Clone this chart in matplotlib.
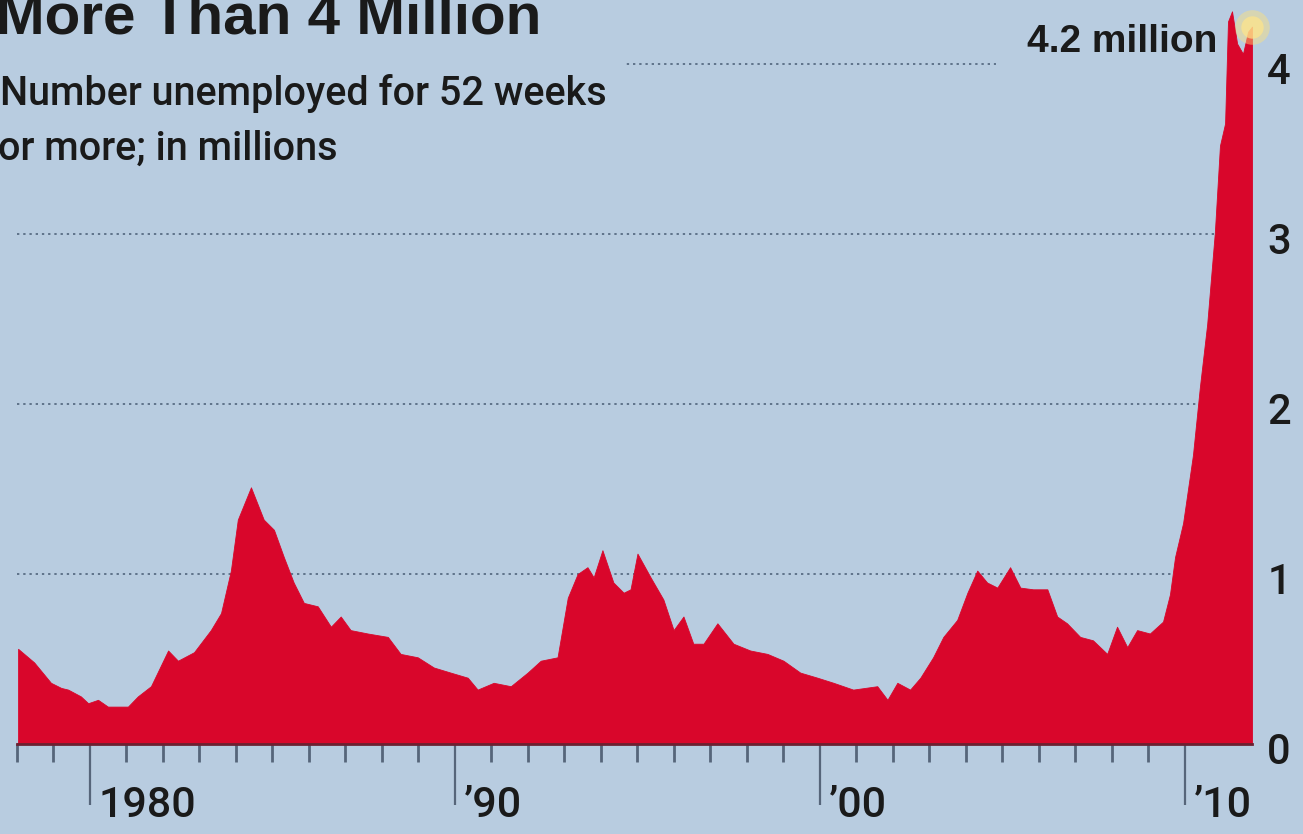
import matplotlib
matplotlib.use("Agg")
import matplotlib.pyplot as plt
from matplotlib.transforms import ScaledTranslation
import numpy as np

# ---------------- data ----------------
years = [1978.03, 1978.47, 1978.93, 1979.21, 1979.40, 1979.75, 1979.95, 1980.22,
         1980.49, 1981.04, 1981.31, 1981.67, 1982.14, 1982.41, 1982.85, 1983.31,
         1983.59, 1983.86, 1984.05, 1984.41, 1984.76, 1985.04, 1985.31, 1985.58,
         1985.86, 1986.24, 1986.60, 1986.87, 1987.14, 1987.61, 1988.16, 1988.51,
         1988.98, 1989.42, 1989.88, 1990.35, 1990.62, 1991.06, 1991.53, 1991.99,
         1992.35, 1992.81, 1993.09, 1993.36, 1993.63, 1993.80, 1994.04, 1994.34,
         1994.62, 1994.81, 1995.00, 1995.36, 1995.71, 1995.99, 1996.26, 1996.53,
         1996.81, 1997.19, 1997.63, 1998.09, 1998.56, 1999.00, 1999.46, 1999.93,
         2000.37, 2000.91, 2001.57, 2001.85, 2002.12, 2002.47, 2002.75, 2003.10,
         2003.38, 2003.76, 2004.04, 2004.31, 2004.58, 2004.86, 2005.21, 2005.49,
         2005.84, 2006.23, 2006.50, 2006.77, 2007.13, 2007.48, 2007.87, 2008.14,
         2008.42, 2008.69, 2009.04, 2009.40, 2009.59, 2009.73, 2009.95, 2010.22,
         2010.41, 2010.61, 2010.82, 2010.96, 2011.10, 2011.18, 2011.29, 2011.43,
         2011.59, 2011.73, 2011.84]
values = [0.56, 0.48, 0.36, 0.33, 0.32, 0.28, 0.24, 0.26,
          0.22, 0.22, 0.28, 0.34, 0.55, 0.49, 0.54, 0.67,
          0.77, 1.02, 1.32, 1.51, 1.32, 1.26, 1.10, 0.95,
          0.83, 0.81, 0.69, 0.75, 0.67, 0.65, 0.63, 0.53,
          0.51, 0.45, 0.42, 0.39, 0.32, 0.36, 0.34, 0.42,
          0.49, 0.51, 0.86, 1.00, 1.04, 0.98, 1.14, 0.95,
          0.89, 0.91, 1.12, 0.98, 0.85, 0.67, 0.75, 0.59,
          0.59, 0.71, 0.59, 0.55, 0.53, 0.49, 0.42, 0.39,
          0.36, 0.32, 0.34, 0.26, 0.36, 0.32, 0.39, 0.51,
          0.63, 0.73, 0.89, 1.02, 0.95, 0.92, 1.04, 0.92,
          0.91, 0.91, 0.75, 0.71, 0.63, 0.61, 0.53, 0.69,
          0.57, 0.67, 0.65, 0.72, 0.88, 1.10, 1.30, 1.70,
          2.10, 2.47, 3.01, 3.52, 3.65, 4.25, 4.31, 4.12,
          4.06, 4.19, 4.22]

major_years = [1980, 1990, 2000, 2010]
major_labels = ["1980", "\u201990", "\u201900", "\u201910"]
minor_years = list(range(1978, 2010))
y_ticks = [0, 1, 2, 3, 4]
title_text = "More Than 4 Million"
subtitle_lines = ["Number unemployed for 52 weeks", "or more; in millions"]
annotation_text = "4.2 million"

# ---------------- style ----------------
plt.rcParams["font.family"] = ["Roboto", "Liberation Sans", "DejaVu Sans"]
BOLD_FAMILY = ["Liberation Sans", "DejaVu Sans"]
BG = "#b8cce0"
RED = "#d9062b"
TXT = "#1a1a1a"
TICK = "#56657a"

W, H = 1303, 834
fig = plt.figure(figsize=(W / 100, H / 100), dpi=100)
fig.patch.set_facecolor(BG)

px_per_year = 36.53
px_per_unit = 170.0
left_px, base_px = 17, 90
ymax = 4.4
ax = fig.add_axes([left_px / W, base_px / H,
                   (years[-1] - years[0]) * px_per_year / W,
                   ymax * px_per_unit / H])
ax.set_facecolor(BG)
ax.set_xlim(years[0], years[-1])
ax.set_ylim(0, ymax)

ax.fill_between(years, values, 0, color=RED, lw=0.6, edgecolor=RED,
                zorder=1, clip_on=False)

ax.set_axisbelow(True)
ax.set_yticks(y_ticks)
ax.yaxis.grid(True, color="#5f738a", linestyle=(0, (1.2, 2.0)), linewidth=1.4)
ax.yaxis.tick_right()
ax.tick_params(axis="y", length=0, pad=11, labelsize=30, labelcolor=TXT)
for lab in ax.get_yticklabels():
    lab.set_fontweight("medium")
    lab.set_transform(lab.get_transform() +
                      ScaledTranslation(0, -4 / 100, fig.dpi_scale_trans))

ax.set_xticks(major_years)
ax.set_xticklabels(major_labels)
ax.set_xticks(minor_years, minor=True)
ax.tick_params(axis="x", which="major", length=44, width=1.6, color=TICK,
               pad=0, labelsize=31, labelcolor=TXT)
ax.tick_params(axis="x", which="minor", length=13, width=2.0, color=TICK)
for lab in ax.get_xticklabels():
    lab.set_ha("left")
    lab.set_fontweight("medium")
    lab.set_transform(lab.get_transform() +
                      ScaledTranslation(9 / 100, 20 / 100, fig.dpi_scale_trans))

for s in ["top", "left", "right"]:
    ax.spines[s].set_visible(False)
ax.spines["bottom"].set_color("#6b2030")
ax.spines["bottom"].set_linewidth(2)

# ---------------- texts ----------------
ax.text(-4 / W, 1 - 33 / H, title_text, transform=fig.transFigure,
        fontsize=42, fontweight="bold", family=BOLD_FAMILY, color=TXT,
        ha="left", va="baseline")
ax.text(0 / W, 1 - 105 / H, subtitle_lines[0], transform=fig.transFigure,
        fontsize=28.5, fontweight="medium", color=TXT, ha="left", va="baseline",
        zorder=0.8, bbox=dict(boxstyle="square,pad=0.45", fc=BG, ec="none"))
ax.text(-2 / W, 1 - 160 / H, subtitle_lines[1], transform=fig.transFigure,
        fontsize=28.5, fontweight="medium", color=TXT, ha="left", va="baseline",
        zorder=0.8)
ax.text(1027 / W, 1 - 52 / H, annotation_text, transform=fig.transFigure,
        fontsize=28, fontweight="bold", family=BOLD_FAMILY, color=TXT,
        ha="left", va="baseline",
        zorder=0.8, bbox=dict(boxstyle="square,pad=0.8", fc=BG, ec="none"))

# highlight dot at the latest value
ax.scatter([years[-1]], [values[-1]], s=620, color="#ffe27a", alpha=0.45,
           lw=0, zorder=4, clip_on=False)
ax.scatter([years[-1]], [values[-1]], s=260, color="#ffe58a", alpha=0.7,
           lw=0, zorder=4, clip_on=False)

fig.savefig("out.png", dpi=100, facecolor=BG)
